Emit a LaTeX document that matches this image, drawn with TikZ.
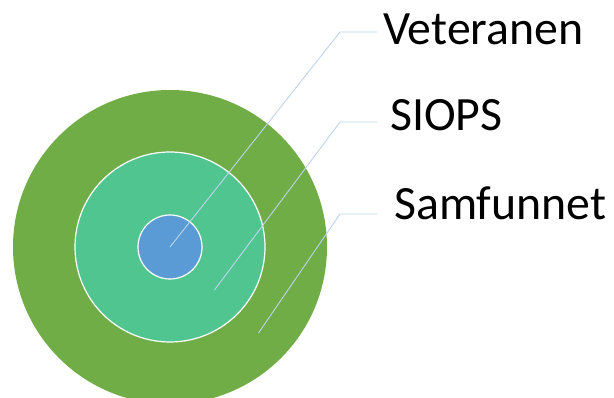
\documentclass[tikz,border=0pt]{standalone}
\usepackage{fontspec}
\setmainfont{Carlito}
\usetikzlibrary{positioning}
\definecolor{outergreen}{HTML}{70AD47}
\definecolor{midgreen}{HTML}{50C58F}
\definecolor{innerblue}{HTML}{5B9BD5}
\definecolor{leaderblue}{HTML}{BDD4EE}
\tikzset{
  ring/.style={circle, inner sep=0pt, outer sep=0pt},
  lbl/.style={anchor=base west, inner ysep=0pt, font=\fontsize{47.8}{52}\selectfont},
  leader/.style={draw=leaderblue, line width=0.9pt},
}
\begin{document}
\begin{tikzpicture}[x=1pt, y=-1pt]
    \useasboundingbox (0,0) rectangle (614,398);
    \clip (0,0) rectangle (614,398);
    % rings
    \node[ring, fill=outergreen, minimum size=314pt] (samfunnet) at (170,247) {};
    \node[ring, fill=midgreen, draw=white, line width=1.2pt, minimum size=190pt] (siops) at (samfunnet.center) {};
    \node[ring, fill=innerblue, draw=white, line width=1.2pt, minimum size=64pt] (veteranen) at (samfunnet.center) {};
    % labels
    \node[lbl, inner xsep=6pt] (vetlbl) at (377,45) {Veteranen};
    \node[lbl, inner xsep=13pt] (siopslbl) at (377,131) {SIOPS};
    \node[lbl, inner xsep=17pt] (samlbl) at (377,220) {Samfunnet};
    % leader lines
    \coordinate (vetK) at (340,32);
    \coordinate (siopsK) at (340,122);
    \coordinate (samK) at (340,214);
    \coordinate (siopsE) at (214.5,290);
    \coordinate (samE) at (258.5,333);
    \draw[leader] (vetlbl.west |- vetK) -- (vetK) -- (veteranen.center);
    \draw[leader] (siopslbl.west |- siopsK) -- (siopsK) -- (siopsE);
    \draw[leader] (samlbl.west |- samK) -- (samK) -- (samE);
\end{tikzpicture}
\end{document}
